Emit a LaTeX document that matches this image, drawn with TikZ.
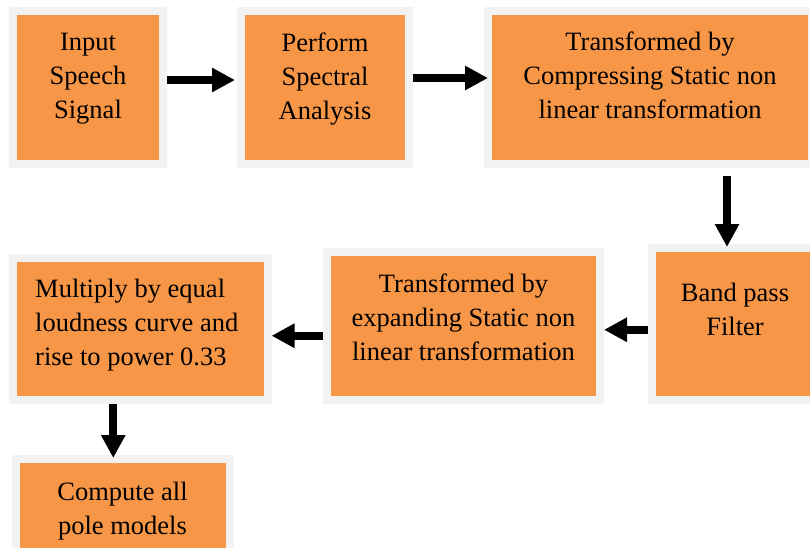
\documentclass[tikz,border=0pt]{standalone}
\usepackage{fontspec}
\setmainfont{LiberationSerif}[Extension=.ttf, UprightFont=*-Regular, BoldFont=*-Bold, ItalicFont=*-Italic, BoldItalicFont=*-BoldItalic]
\usetikzlibrary{arrows.meta,positioning}
\definecolor{boxorange}{HTML}{F79646}
\definecolor{rimgrey}{HTML}{F2F2F2}
\begin{document}
\begin{tikzpicture}[x=1pt,y=1pt,
    blk/.style={draw=rimgrey, line width=8pt, fill=boxorange, inner sep=0pt},
    txt/.style={inner sep=0pt, align=center, font=\rmfamily\fontsize{26.5}{34}\selectfont},
    flow/.style={line width=8pt, -{Triangle[length=23pt,width=23pt]}}]
    \useasboundingbox (0,0) rectangle (810,-547);
    \node[blk, minimum width=150pt, minimum height=153pt] (inp) at (88,-87.5) {};
    \node[txt, below=26pt of inp.north] (inptxt) {Input\\Speech\\Signal};
    \node[blk, minimum width=168pt, minimum height=153pt] (spec) at (325,-87.5) {};
    \node[txt, below=26pt of spec.north] (spectxt) {Perform\\Spectral\\Analysis};
    \node[blk, minimum width=324pt, minimum height=153pt] (comp) at (650,-87.5) {};
    \node[txt, below=25pt of comp.north] (comptxt) {Transformed by\\Compressing Static non\\linear transformation};
    \node[blk, minimum width=166pt, minimum height=152.5pt] (bpf) at (735,-323.75) {};
    \node[txt, below=39.5pt of bpf.north] (bpftxt) {Band pass\\Filter};
    \node[blk, minimum width=273pt, minimum height=148.5pt] (expd) at (463.5,-325.75) {};
    \node[txt, below=26.5pt of expd.north] (expdtxt) {Transformed by\\expanding Static non\\linear transformation};
    \node[blk, minimum width=254.5pt, minimum height=142.5pt] (mult) at (140.25,-328.75) {};
    \node[txt, align=left, below right=25.5pt and 26pt of mult.north west] (multtxt) {Multiply by equal\\loudness curve and\\rise to power 0.33};
    \node[blk, minimum width=214pt, minimum height=150pt] (pole) at (122.5,-534) {};
    \node[txt, below=27pt of pole.north] (poletxt) {Compute all\\pole models};
    \draw[flow, shorten >=2pt] ([yshift=7.5pt]inp.east) -- ([yshift=7.5pt]inp.east -| spec.west);
    \draw[flow, shorten >=-4pt] ([yshift=9.5pt]spec.east) -- ([yshift=9.5pt]spec.east -| comp.west);
    \draw[flow, shorten <=8pt, shorten >=-3.5pt] ([xshift=77pt]comp.south) -- ([xshift=77pt]comp.south |- bpf.north);
    \draw[flow] ([yshift=-6pt]bpf.west) -- ([yshift=-6pt]bpf.west -| expd.east);
    \draw[flow] ([yshift=-10pt]expd.west) -- ([yshift=-10pt]expd.west -| mult.east);
    \draw[flow, shorten >=-3pt] ([xshift=-27pt]mult.south) -- ([xshift=-27pt]mult.south |- pole.north);
\end{tikzpicture}
\end{document}
